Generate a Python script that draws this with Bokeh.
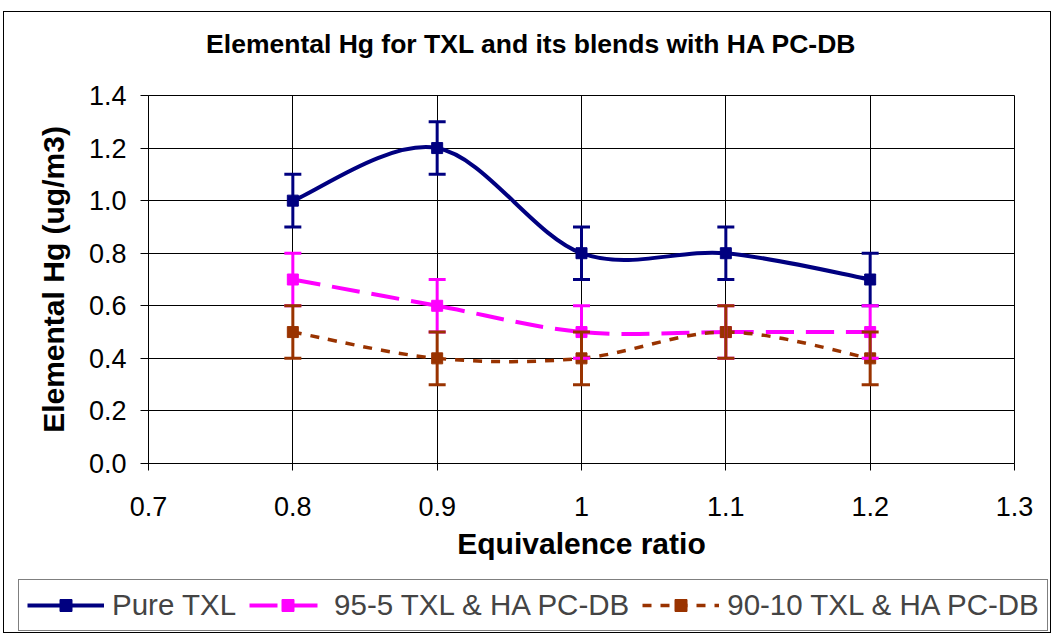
from bokeh.plotting import figure
from bokeh.layouts import column
from bokeh.models import (ColumnDataSource, Whisker, TeeHead, FixedTicker, Legend,
                          LegendItem, Label)
from bokeh.embed import file_html
from bokeh.resources import INLINE

# ---- data ----
x_vals = [0.8, 0.9, 1.0, 1.1, 1.2]
pure_txl = [1.0, 1.2, 0.8, 0.8, 0.7]
blend_95_5 = [0.7, 0.6, 0.5, 0.5, 0.5]
blend_90_10 = [0.5, 0.4, 0.4, 0.5, 0.4]
err_pure = [0.1, 0.1, 0.1, 0.1, 0.1]
err_95_5 = [0.1, 0.1, 0.1, 0.1, 0.1]
err_90_10 = [0.1, 0.1, 0.1, 0.1, 0.1]
series_names = ["Pure TXL", "95-5 TXL & HA PC-DB", "90-10 TXL & HA PC-DB"]
x_ticks = [0.7, 0.8, 0.9, 1.0, 1.1, 1.2, 1.3]
x_tick_labels = ["0.7", "0.8", "0.9", "1", "1.1", "1.2", "1.3"]
y_ticks = [0.0, 0.2, 0.4, 0.6, 0.8, 1.0, 1.2, 1.4]
y_tick_labels = ["0.0", "0.2", "0.4", "0.6", "0.8", "1.0", "1.2", "1.4"]
title_text = "Elemental Hg for TXL and its blends with HA PC-DB"
x_label = "Equivalence ratio"
y_label = "Elemental Hg (ug/m3)"

FONT = "Liberation Sans"
W = 1046


def blank_figure(height):
    f = figure(width=W, height=height, min_border=0,
               min_border_left=0, min_border_right=0, min_border_top=0, min_border_bottom=0,
               x_axis_type=None, y_axis_type=None, frame_align=False,
               x_range=(0.7, 1.3), y_range=(0.0, 1.4),
               output_backend="svg", toolbar_location=None,
               background_fill_color="white", border_fill_color="white")
    f.outline_line_color = None
    f.xgrid.visible = False
    f.ygrid.visible = False
    return f


# ---- title strip ----
p_title = blank_figure(70)
p_title.add_layout(Label(x=527, y=39, x_units="screen", y_units="screen", text=title_text,
                         text_font=FONT, text_font_size="26.5px", text_font_style="bold",
                         text_color="black", text_align="center", text_baseline="middle"))

# ---- main chart ----
p = figure(
    width=W, frame_width=866, frame_height=368,
    min_border_left=144, min_border_right=36,
    min_border_top=13, min_border_bottom=115, frame_align=False,
    x_range=(0.7, 1.3), y_range=(0.0, 1.4),
    output_backend="svg", toolbar_location=None,
    background_fill_color="white", border_fill_color="white",
)
p.outline_line_color = "black"
p.outline_line_width = 1

for ax in (p.xaxis[0], p.yaxis[0]):
    ax.axis_line_color = "black"
    ax.major_tick_line_color = "black"
    ax.major_tick_in = 0
    ax.minor_tick_line_color = None
    ax.major_label_text_font = FONT
    ax.major_label_text_font_size = "27px"
    ax.major_label_text_color = "black"
    ax.axis_label_text_font = FONT
    ax.axis_label_text_font_size = "30px"
    ax.axis_label_text_font_style = "bold"
    ax.axis_label_text_color = "black"

p.xaxis.ticker = FixedTicker(ticks=x_ticks)
p.xaxis.major_label_overrides = dict(zip(x_ticks, x_tick_labels))
p.xaxis.major_tick_out = 7
p.xaxis.major_label_standoff = 26
p.xaxis.axis_label = x_label
p.xaxis.axis_label_standoff = 8

p.yaxis.ticker = FixedTicker(ticks=y_ticks)
p.yaxis.major_label_overrides = dict(zip(y_ticks, y_tick_labels))
p.yaxis.major_tick_out = 8
p.yaxis.major_label_standoff = 14
p.yaxis.axis_label = y_label
p.yaxis.axis_label_standoff = 16

p.xgrid.ticker = FixedTicker(ticks=x_ticks)
p.ygrid.ticker = FixedTicker(ticks=y_ticks)
p.xgrid.grid_line_color = "black"
p.ygrid.grid_line_color = "black"


def bezier_source(xs, ys):
    n = len(xs)
    d = dict(x0=[], y0=[], x1=[], y1=[], cx0=[], cy0=[], cx1=[], cy1=[])
    for i in range(n - 1):
        i0 = max(i - 1, 0)
        i3 = min(i + 2, n - 1)
        d["x0"].append(xs[i]); d["y0"].append(ys[i])
        d["x1"].append(xs[i + 1]); d["y1"].append(ys[i + 1])
        d["cx0"].append(xs[i] + (xs[i + 1] - xs[i0]) / 6)
        d["cy0"].append(ys[i] + (ys[i + 1] - ys[i0]) / 6)
        d["cx1"].append(xs[i + 1] - (xs[i3] - xs[i]) / 6)
        d["cy1"].append(ys[i + 1] - (ys[i3] - ys[i]) / 6)
    return ColumnDataSource(d)


styles = [
    (pure_txl, err_pure, "#000080", 4, "solid"),
    (blend_95_5, err_95_5, "#FF00FF", 4, "28 12"),
    (blend_90_10, err_90_10, "#993300", 3.5, "9 9"),
]

# ---- legend strip ----
p_leg = blank_figure(54)

items = []
for name, (ys, es, color, lw, dash) in zip(series_names, styles):
    p.bezier(x0="x0", y0="y0", x1="x1", y1="y1", cx0="cx0", cy0="cy0", cx1="cx1", cy1="cy1",
             source=bezier_source(x_vals, ys), line_color=color, line_width=lw, line_dash=dash)
    src = ColumnDataSource(dict(x=x_vals, y=ys,
                                lower=[y - e for y, e in zip(ys, es)],
                                upper=[y + e for y, e in zip(ys, es)]))
    w = Whisker(base="x", upper="upper", lower="lower", source=src,
                line_color=color, line_width=3,
                upper_head=TeeHead(size=17, line_color=color, line_width=3),
                lower_head=TeeHead(size=17, line_color=color, line_width=3),
                level="glyph")
    p.add_layout(w)
    p.scatter("x", "y", source=src, marker="square", size=11,
              fill_color=color, line_color=color)
    # legend swatches: same series, hidden in the legend strip
    leg_line = p_leg.line(x=x_vals, y=ys, line_color=color, line_width=lw,
                          line_dash=dash, visible=False)
    leg_mark = p_leg.scatter(x=x_vals, y=ys, marker="square", size=11,
                             fill_color=color, line_color=color, visible=False)
    items.append(LegendItem(label=name, renderers=[leg_line, leg_mark]))

legend = Legend(items=items, orientation="horizontal", location=(14, 1),
                label_text_font=FONT, label_text_font_size="29.5px",
                glyph_width=77, glyph_height=30, label_standoff=8, spacing=13,
                padding=8, margin=0, border_line_color="black", border_line_width=1,
                background_fill_color="white", background_fill_alpha=1.0,
                inactive_fill_alpha=0.0)
p_leg.add_layout(legend, "center")

layout = column(p_title, p, p_leg, spacing=0)
layout.styles = {"margin-left": "3px", "margin-top": "11px", "border": "1px solid black"}

open("out.html", "w").write(file_html(layout, INLINE))
